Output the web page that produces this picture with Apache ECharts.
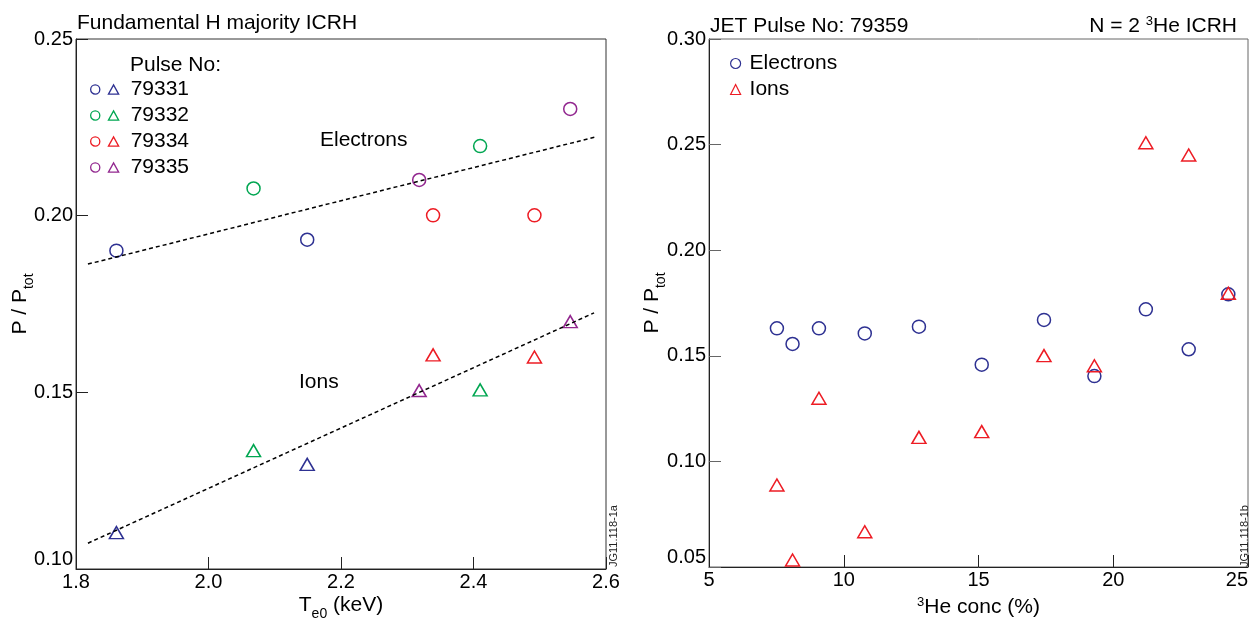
<!DOCTYPE html>
<html>
<head>
<meta charset="utf-8">
<script src="https://cdn.jsdelivr.net/npm/echarts@6/dist/echarts.min.js"></script>
<style>
html,body{margin:0;padding:0;background:#fff;}
#chart{width:1250px;height:619px;}
</style>
</head>
<body>
<div id="chart"></div>
<script>
// ---- Left panel: Fundamental H majority ICRH ----
const pulses = ['79331', '79332', '79334', '79335'];
const teKeV = [[1.861, 2.149], [2.068, 2.410], [2.339, 2.492], [2.318, 2.546]];
const elecFracA = [[0.1901, 0.1932], [0.2077, 0.2197], [0.2001, 0.2001], [0.2101, 0.2302]];
const ionFracA = [[0.1103, 0.1296], [0.1335, 0.1507], [0.1606, 0.1600], [0.1505, 0.1700]];
const electronsFit = [[1.818, 0.1863], [2.585, 0.2223]];
const ionsFit = [[1.818, 0.1073], [2.582, 0.1725]];
const teTicks = [1.8, 2.0, 2.2, 2.4, 2.6];
const fracTicksA = [0.10, 0.15, 0.20, 0.25];

// ---- Right panel: JET Pulse No 79359, N = 2 3He ICRH ----
const heConc = [7.52, 8.10, 9.08, 10.78, 12.79, 15.12, 17.43, 19.30, 21.21, 22.80, 24.27];
const elecFracB = [0.1630, 0.1556, 0.1630, 0.1606, 0.1638, 0.1458, 0.1670, 0.1404, 0.1720, 0.1531, 0.1791];
const ionFracB = [0.0888, 0.0533, 0.1299, 0.0667, 0.1114, 0.1141, 0.1501, 0.1453, 0.2509, 0.2451, 0.1796];
const concTicks = [5, 10, 15, 20, 25];
const fracTicksB = [0.05, 0.10, 0.15, 0.20, 0.25, 0.30];

const pulseColors = ['#2e3192', '#00a651', '#ed1c24', '#92278f'];
const FONT = "'Liberation Sans', Arial, Helvetica, sans-serif";

const chart = echarts.init(document.getElementById('chart'), null, {renderer: 'canvas'});

function txt(size) { return {fontSize: size, color: '#000', fontFamily: FONT, fontWeight: 'normal'}; }

function markStyle(c) { return {color: 'transparent', borderColor: c, borderWidth: 1.5, opacity: 1}; }

const series = [];
pulses.forEach((p, i) => {
  series.push({
    name: p, type: 'scatter', xAxisIndex: 0, yAxisIndex: 0,
    symbol: 'circle', symbolSize: 13,
    itemStyle: markStyle(pulseColors[i]),
    data: teKeV[i].map((x, j) => [x, elecFracA[i][j]])
  });
  series.push({
    name: p, type: 'scatter', xAxisIndex: 0, yAxisIndex: 0,
    symbol: 'triangle', symbolSize: [14, 12],
    itemStyle: markStyle(pulseColors[i]),
    data: teKeV[i].map((x, j) => [x, ionFracA[i][j]])
  });
});
series.push({
  name: 'Electrons fit', type: 'line', xAxisIndex: 0, yAxisIndex: 0, symbol: 'none', silent: true,
  lineStyle: {color: '#000', width: 1.5, type: [4, 3]}, data: electronsFit
});
series.push({
  name: 'Ions fit', type: 'line', xAxisIndex: 0, yAxisIndex: 0, symbol: 'none', silent: true,
  lineStyle: {color: '#000', width: 1.5, type: [4, 3]}, data: ionsFit
});
series.push({
  name: 'Electrons', type: 'scatter', xAxisIndex: 1, yAxisIndex: 1,
  symbol: 'circle', symbolSize: 13,
  itemStyle: markStyle('#2e3192'),
  data: heConc.map((x, j) => [x, elecFracB[j]])
});
series.push({
  name: 'Ions', type: 'scatter', xAxisIndex: 1, yAxisIndex: 1,
  symbol: 'triangle', symbolSize: [14, 12],
  itemStyle: markStyle('#ed1c24'),
  data: heConc.map((x, j) => [x, ionFracB[j]])
});

const subRich = {
  n: txt(21),
  sub: Object.assign(txt(14), {padding: [18, 0, 0, 0]}),
  sup: Object.assign(txt(13), {padding: [0, 0, 10, 0]})
};

function valueAxis(opts) {
  return Object.assign({
    type: 'value',
    nameLocation: 'middle',
    nameMoveOverlap: false,
    nameTextStyle: Object.assign(txt(21), {rich: subRich}),
    axisLine: {show: true, lineStyle: {color: '#222', width: 1}},
    axisTick: {show: true, inside: true, length: 12, lineStyle: {color: '#222', width: 1}},
    splitLine: {show: false},
    axisLabel: Object.assign(txt(20), {margin: 3})
  }, opts);
}

const option = {
  animation: false,
  backgroundColor: '#fff',
  textStyle: {fontFamily: FONT},
  title: [
    {text: 'Fundamental H majority ICRH', left: 77, top: 13, padding: 0, textStyle: txt(21)},
    {text: 'JET Pulse No: 79359', left: 710, top: 16, padding: 0, textStyle: txt(21)},
    {text: '{n|N = 2 }{sup|3}{n|He ICRH}', right: 13, top: 15, padding: 0,
     textStyle: Object.assign(txt(21), {rich: subRich})},
    {text: 'Pulse No:', left: 130, top: 55, padding: 0, textStyle: txt(21)},
    {text: 'Electrons', left: 320, top: 130, padding: 0, textStyle: txt(21)},
    {text: 'Ions', left: 299, top: 372, padding: 0, textStyle: txt(21)}
  ],
  legend: [
    {
      data: pulses, orient: 'vertical', left: 90, top: 79, padding: 0,
      itemWidth: 28, itemHeight: 10, itemGap: 5, selectedMode: false,
      icon: 'path://M0.5,5A4.5,4.5 0 1 1 9.5,5A4.5,4.5 0 1 1 0.5,5Z M18,9.5L23,0.5L28,9.5Z',
      itemStyle: {borderWidth: 1.3},
      formatter: '{p|{name}}',
      textStyle: Object.assign(txt(21), {rich: {p: Object.assign(txt(21), {padding: [0, 0, 0, 7]})}})
    },
    {
      data: ['Electrons', 'Ions'], orient: 'vertical', left: 730, top: 53, padding: 0,
      itemWidth: 10, itemHeight: 10, itemGap: 5, selectedMode: false,
      itemStyle: {borderWidth: 1.2},
      formatter: '{p|{name}}',
      textStyle: Object.assign(txt(21), {rich: {p: Object.assign(txt(21), {padding: [0, 0, 0, 4]})}})
    }
  ],
  grid: [
    {left: 76, top: 39, width: 530, height: 530, show: true, borderColor: '#333', borderWidth: 1,
     containLabel: false, outerBoundsMode: 'none'},
    {left: 709, top: 39, width: 539, height: 528, show: true, borderColor: '#666', borderWidth: 1,
     containLabel: false, outerBoundsMode: 'none'}
  ],
  xAxis: [
    valueAxis({
      gridIndex: 0, min: teTicks[0], max: teTicks[teTicks.length - 1], interval: 0.2,
      name: '{n|T}{sub|e0}{n| (keV)}', nameGap: 20,
      axisLabel: Object.assign(txt(20), {margin: 3, formatter: v => v.toFixed(1)})
    }),
    valueAxis({
      gridIndex: 1, min: concTicks[0], max: concTicks[concTicks.length - 1], interval: 5,
      name: '{sup|3}{n|He conc (%)}', nameGap: 29,
      axisLabel: Object.assign(txt(20), {margin: 3, alignMaxLabel: 'right', formatter: v => String(v)})
    })
  ],
  yAxis: [
    valueAxis({
      gridIndex: 0, min: fracTicksA[0], max: fracTicksA[fracTicksA.length - 1], interval: 0.05,
      name: '{n|P / P}{sub|tot}', nameGap: 40,
      axisLabel: Object.assign(txt(20), {margin: 3, verticalAlignMinLabel: 'bottom', formatter: v => v.toFixed(2)})
    }),
    valueAxis({
      gridIndex: 1, min: fracTicksB[0], max: fracTicksB[fracTicksB.length - 1], interval: 0.05,
      name: '{n|P / P}{sub|tot}', nameGap: 41,
      axisTick: {show: true, inside: true, length: 12, lineStyle: {color: '#666', width: 1}},
      axisLabel: Object.assign(txt(20), {margin: 3, verticalAlignMinLabel: 'bottom', formatter: v => v.toFixed(2)})
    })
  ],
  graphic: [
    {type: 'text', x: 614, y: 567, rotation: Math.PI / 2,
     style: {text: 'JG11.118-1a', font: "11px 'Liberation Sans', Arial, sans-serif", fill: '#222', align: 'left', verticalAlign: 'middle'}},
    {type: 'text', x: 1245, y: 567, rotation: Math.PI / 2,
     style: {text: 'JG11.118-1b', font: "11px 'Liberation Sans', Arial, sans-serif", fill: '#222', align: 'left', verticalAlign: 'middle'}}
  ],
  series: series
};

chart.setOption(option);
</script>
</body>
</html>
